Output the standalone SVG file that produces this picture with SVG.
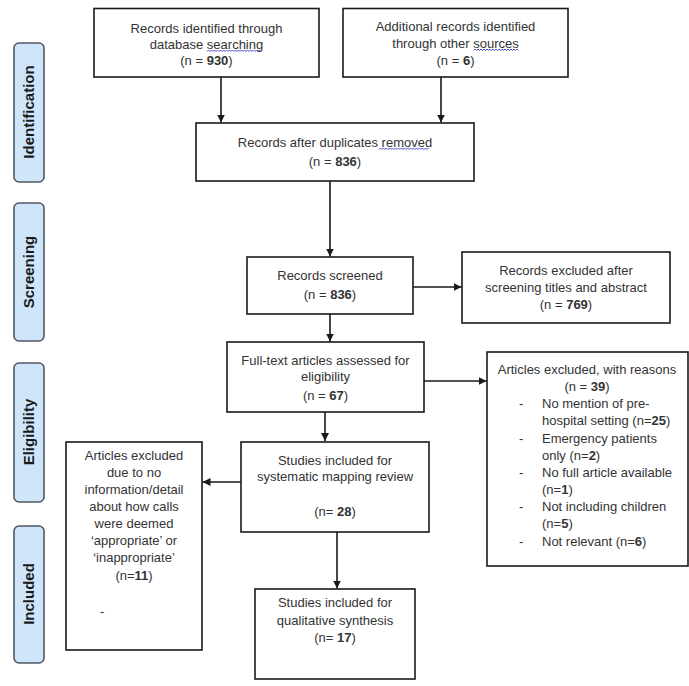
<svg xmlns="http://www.w3.org/2000/svg" width="689" height="686" viewBox="0 0 689 686">
<defs>
<style>
.box{fill:#fff;stroke:#1a1a1a;stroke-width:1.6}
.lbl{fill:#cfe6fa;stroke:#4f5863;stroke-width:1.6}
.t{font-family:"Liberation Sans",Arial,sans-serif;font-size:13px;fill:#333;text-anchor:middle}
.tl{font-family:"Liberation Sans",Arial,sans-serif;font-size:13px;fill:#333}
.lt{font-family:"Liberation Sans",Arial,sans-serif;font-size:15px;font-weight:bold;fill:#1a1a1a;text-anchor:middle}
.b{font-weight:bold}
.con{stroke:#1a1a1a;stroke-width:1.6;fill:none}
.sq{stroke:#3a3ad0;stroke-width:0.9;fill:none}
</style>
<marker id="ah" viewBox="0 0 8 8" refX="8" refY="4" markerWidth="8" markerHeight="8" markerUnits="userSpaceOnUse" orient="auto">
<path d="M0,0 L8,4 L0,8 z" fill="#1a1a1a"/>
</marker>
</defs>
<rect width="689" height="686" fill="#fff"/>

<g id="label-identification"><rect class="lbl" x="14" y="43" width="30" height="139" rx="5"/><text class="lt" transform="translate(34,112) rotate(-90)">Identification</text></g>
<g id="label-screening"><rect class="lbl" x="14" y="203" width="30" height="138" rx="5"/><text class="lt" transform="translate(34,272) rotate(-90)">Screening</text></g>
<g id="label-eligibility"><rect class="lbl" x="14" y="363" width="30" height="139" rx="5"/><text class="lt" transform="translate(34,432) rotate(-90)">Eligibility</text></g>
<g id="label-included"><rect class="lbl" x="14" y="526" width="30" height="137" rx="5"/><text class="lt" transform="translate(34,594) rotate(-90)">Included</text></g>

<g id="connectors">
<path class="con" d="M221,77 V122.5" marker-end="url(#ah)"/>
<path class="con" d="M441,77 V122.5" marker-end="url(#ah)"/>
<path class="con" d="M330,181 V256.5" marker-end="url(#ah)"/>
<path class="con" d="M413,287 H461.5" marker-end="url(#ah)"/>
<path class="con" d="M330,314 V341.5" marker-end="url(#ah)"/>
<path class="con" d="M424,381 H486.5" marker-end="url(#ah)"/>
<path class="con" d="M325,412 V441" marker-end="url(#ah)"/>
<path class="con" d="M241,482 H202.5" marker-end="url(#ah)"/>
<path class="con" d="M337,532 V588.5" marker-end="url(#ah)"/>
</g>

<g id="n-database">
<rect class="box" x="94" y="8.5" width="225" height="68.5"/>
<text class="t" x="206.5" y="33">Records identified through</text>
<text class="t" x="206.5" y="49">database searching</text>
<text class="t" x="206.5" y="65">(n = <tspan class="b">930</tspan>)</text>
<path class="sq" d="M207,51.5 l1.5,-1.5 l1.5,1.5 l1.5,-1.5 l1.5,1.5 l1.5,-1.5 l1.5,1.5 l1.5,-1.5 l1.5,1.5 l1.5,-1.5 l1.5,1.5 l1.5,-1.5 l1.5,1.5 l1.5,-1.5 l1.5,1.5 l1.5,-1.5 l1.5,1.5 l1.5,-1.5 l1.5,1.5 l1.5,-1.5 l1.5,1.5 l1.5,-1.5 l1.5,1.5 l1.5,-1.5 l1.5,1.5 l1.5,-1.5 l1.5,1.5 l1.5,-1.5 l1.5,1.5 l1.5,-1.5 l1.5,1.5 l1.5,-1.5 l1.5,1.5 l1.5,-1.5 l1.5,1.5 l1.5,-1.5 l1.5,1.5"/>
</g>

<g id="n-other">
<rect class="box" x="343" y="8.5" width="225" height="68.5"/>
<text class="t" x="455.5" y="31">Additional records identified</text>
<text class="t" x="455.5" y="48">through other sources</text>
<text class="t" x="455.5" y="65">(n = <tspan class="b">6</tspan>)</text>
<path class="sq" d="M473.5,50.5 l1.5,-1.5 l1.5,1.5 l1.5,-1.5 l1.5,1.5 l1.5,-1.5 l1.5,1.5 l1.5,-1.5 l1.5,1.5 l1.5,-1.5 l1.5,1.5 l1.5,-1.5 l1.5,1.5 l1.5,-1.5 l1.5,1.5 l1.5,-1.5 l1.5,1.5 l1.5,-1.5 l1.5,1.5 l1.5,-1.5 l1.5,1.5 l1.5,-1.5 l1.5,1.5 l1.5,-1.5 l1.5,1.5 l1.5,-1.5 l1.5,1.5 l1.5,-1.5 l1.5,1.5 l1.5,-1.5 l1.5,1.5"/>
</g>

<g id="n-duplicates">
<rect class="box" x="196" y="123" width="278" height="58"/>
<text class="t" x="335" y="147">Records after duplicates removed</text>
<text class="t" x="335" y="166">(n = <tspan class="b">836</tspan>)</text>
<path class="sq" d="M379,149.5 l1.5,-1.5 l1.5,1.5 l1.5,-1.5 l1.5,1.5 l1.5,-1.5 l1.5,1.5 l1.5,-1.5 l1.5,1.5 l1.5,-1.5 l1.5,1.5 l1.5,-1.5 l1.5,1.5 l1.5,-1.5 l1.5,1.5 l1.5,-1.5 l1.5,1.5 l1.5,-1.5 l1.5,1.5 l1.5,-1.5 l1.5,1.5 l1.5,-1.5 l1.5,1.5 l1.5,-1.5 l1.5,1.5 l1.5,-1.5 l1.5,1.5 l1.5,-1.5 l1.5,1.5 l1.5,-1.5 l1.5,1.5 l1.5,-1.5 l1.5,1.5 l1.5,-1.5"/>
</g>

<g id="n-screened">
<rect class="box" x="247" y="257" width="166" height="57"/>
<text class="t" x="330" y="280">Records screened</text>
<text class="t" x="330" y="299">(n = <tspan class="b">836</tspan>)</text>
</g>

<g id="n-excluded-screen">
<rect class="box" x="462" y="252" width="208" height="71"/>
<text class="t" x="566" y="275">Records excluded after</text>
<text class="t" x="566" y="292">screening titles and abstract</text>
<text class="t" x="566" y="309">(n = <tspan class="b">769</tspan>)</text>
</g>

<g id="n-fulltext">
<rect class="box" x="227" y="342" width="197" height="70"/>
<text class="t" x="325.5" y="364.5">Full-text articles assessed for</text>
<text class="t" x="325.5" y="381">eligibility</text>
<text class="t" x="325.5" y="400">(n = <tspan class="b">67</tspan>)</text>
</g>

<g id="n-excluded-reasons">
<rect class="box" x="487" y="352" width="201" height="214"/>
<text class="t" x="587" y="373.5">Articles excluded, with reasons</text>
<text class="t" x="587" y="390.5">(n = <tspan class="b">39</tspan>)</text>
<text class="tl" x="519" y="408">-</text>
<text class="tl" x="542" y="408">No mention of pre-</text>
<text class="tl" x="542" y="425">hospital setting (n=<tspan class="b">25</tspan>)</text>
<text class="tl" x="519" y="442.5">-</text>
<text class="tl" x="542" y="442.5">Emergency patients</text>
<text class="tl" x="542" y="459.5">only (n=<tspan class="b">2</tspan>)</text>
<text class="tl" x="519" y="476.5">-</text>
<text class="tl" x="542" y="476.5">No full article available</text>
<text class="tl" x="542" y="493.5">(n=<tspan class="b">1</tspan>)</text>
<text class="tl" x="519" y="511">-</text>
<text class="tl" x="542" y="511">Not including children</text>
<text class="tl" x="542" y="528">(n=<tspan class="b">5</tspan>)</text>
<text class="tl" x="519" y="545.5">-</text>
<text class="tl" x="542" y="545.5">Not relevant (n=<tspan class="b">6</tspan>)</text>
</g>

<g id="n-studies-mapping">
<rect class="box" x="241" y="442" width="188" height="90"/>
<text class="t" x="335" y="464.5">Studies included for</text>
<text class="t" x="335" y="481">systematic mapping review</text>
<text class="t" x="335" y="515.5">(n= <tspan class="b">28</tspan>)</text>
</g>

<g id="n-excluded-info">
<rect class="box" x="66" y="442" width="136" height="208"/>
<text class="t" x="134" y="459.5">Articles excluded</text>
<text class="t" x="134" y="477">due to no</text>
<text class="t" x="134" y="493.5">information/detail</text>
<text class="t" x="134" y="511">about how calls</text>
<text class="t" x="134" y="527.5">were deemed</text>
<text class="t" x="134" y="545">‘appropriate’ or</text>
<text class="t" x="134" y="562">‘inappropriate’</text>
<text class="t" x="134" y="580">(n=<tspan class="b">11</tspan>)</text>
<text class="tl" x="100" y="616">-</text>
</g>

<g id="n-qualitative">
<rect class="box" x="255" y="589" width="160" height="90"/>
<text class="t" x="335" y="606.5">Studies included for</text>
<text class="t" x="335" y="624.5">qualitative synthesis</text>
<text class="t" x="335" y="642">(n= <tspan class="b">17</tspan>)</text>
</g>
</svg>
